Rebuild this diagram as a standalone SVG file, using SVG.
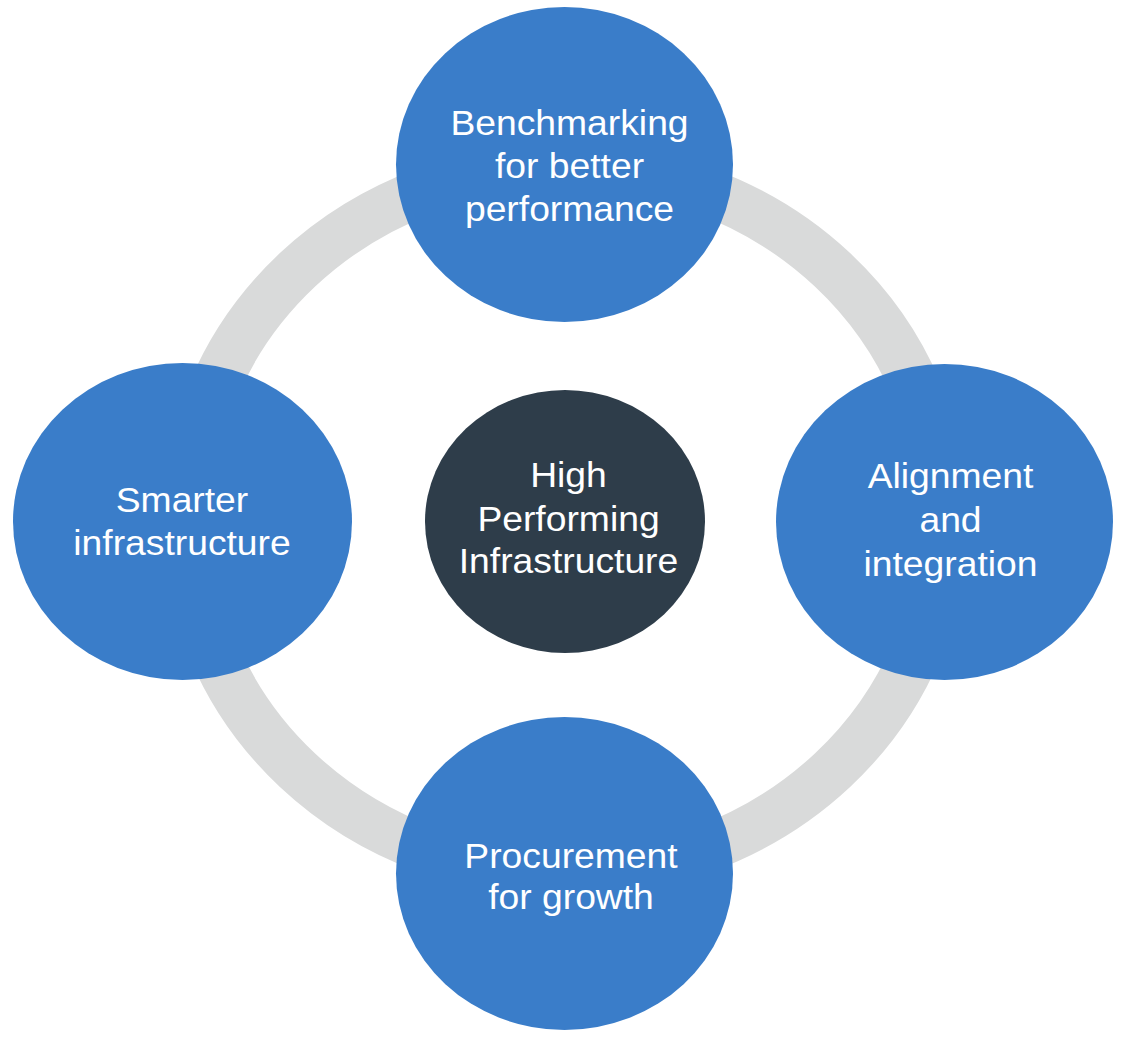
<svg xmlns="http://www.w3.org/2000/svg" width="1128" height="1037" viewBox="0 0 1128 1037">
<style>
.node{fill:#3A7DC9;}
.hub{fill:#2E3D4A;}
.ring{fill:none;stroke:#D9DADA;stroke-width:47;}
.lbl{font-family:"Liberation Sans",Arial,Helvetica,sans-serif;font-size:35px;fill:#FFFFFF;text-anchor:middle;}
</style>
<rect width="1128" height="1037" fill="#FFFFFF"/>
<g id="connectors">
<circle class="ring" cx="0" cy="0" r="354" transform="translate(565,520) scale(1.068,1)"/>
</g>
<g id="node-top">
<ellipse class="node" cx="564.5" cy="164.5" rx="168.5" ry="157.5"/>
<text class="lbl" transform="translate(569.5,0) scale(1.065,1)"><tspan x="0" y="135">Benchmarking</tspan><tspan x="0" y="178">for better</tspan><tspan x="0" y="221">performance</tspan></text>
</g>
<g id="node-left">
<ellipse class="node" cx="182.5" cy="521.5" rx="169.5" ry="158.5"/>
<text class="lbl" transform="translate(182,0) scale(1.065,1)"><tspan x="0" y="512">Smarter</tspan><tspan x="0" y="555">infrastructure</tspan></text>
</g>
<g id="node-right">
<ellipse class="node" cx="944.5" cy="522" rx="168.5" ry="158"/>
<text class="lbl" transform="translate(950.5,0) scale(1.065,1)"><tspan x="0" y="488">Alignment</tspan><tspan x="0" y="532">and</tspan><tspan x="0" y="576">integration</tspan></text>
</g>
<g id="node-bottom">
<ellipse class="node" cx="564.5" cy="873.5" rx="168.5" ry="156.5"/>
<text class="lbl" transform="translate(571,0) scale(1.065,1)"><tspan x="0" y="868">Procurement</tspan><tspan x="0" y="909">for growth</tspan></text>
</g>
<g id="node-center">
<ellipse class="hub" cx="565" cy="521.5" rx="140" ry="131.5"/>
<text class="lbl" transform="translate(568.5,0) scale(1.065,1)"><tspan x="0" y="487">High</tspan><tspan x="0" y="531">Performing</tspan><tspan x="0" y="573">Infrastructure</tspan></text>
</g>
</svg>
